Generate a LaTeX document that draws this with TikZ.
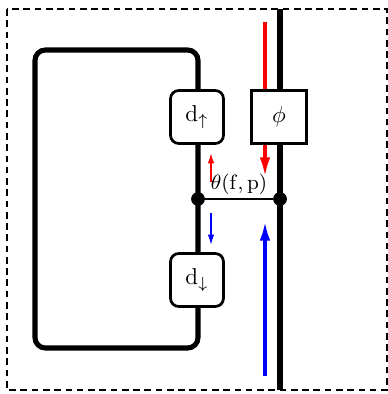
\documentclass[tikz,border=0pt]{standalone}
\usetikzlibrary{arrows.meta}

\tikzset{
  dbox/.style={draw, fill=white, rounded corners=3.5pt, line width=1.2pt, minimum width=23pt, minimum height=23pt, inner sep=0pt},
  phibox/.style={draw, fill=white, line width=1.2pt, minimum width=24pt, minimum height=23pt, inner sep=0pt},
  junct/.style={circle, fill=black, inner sep=0pt, minimum size=6pt},
  wire/.style={line width=2.2pt},
  bigflow/.style={line width=1.7pt, -{Latex[length=9pt,width=4.6pt]}},
  smallflow/.style={line width=0.6pt, -{Latex[length=4.5pt,width=2.8pt]}}
}

\begin{document}
\begin{tikzpicture}[x=0.4348pt,y=-0.4348pt]
\useasboundingbox (0,0) rectangle (388,394);
% frame
\draw[line width=1.3pt, dash pattern=on 2.9pt off 2pt] (7,9) rectangle (387,390);
% flows
\coordinate (redtop) at (265,22);
\coordinate (redtip) at (265,178);
\coordinate (bluebot) at (265,376);
\coordinate (bluetip) at (265,220);
\draw[bigflow, red] (redtop) -- (redtip);
\draw[bigflow, blue] (bluebot) -- (bluetip);
% wire and loop
\coordinate (wtop) at (280,9);
\coordinate (wbot) at (280,390);
\draw[wire] (wtop) -- (wbot);
\draw[wire, rounded corners=4.5pt] (35,50) rectangle (198,348);
% boxes
\node[dbox] (dup) at (197,117) {$\mathrm{d}_\uparrow$};
\node[dbox] (ddown) at (197,280) {$\mathrm{d}_\downarrow$};
\node[phibox] (phi) at (279,117) {$\phi$};
% junction
\node[junct] (jl) at (198,199) {};
\node[junct] (jr) at (280,199) {};
\draw[line width=0.45pt] (jl) -- node[above, inner sep=1.5pt, font=\small] (theta) {$\theta(\mathrm{f},\mathrm{p})$} (jr);
% spin arrows
\coordinate (upfrom) at (211,182);
\coordinate (upto) at (211,153);
\coordinate (downfrom) at (211,213);
\coordinate (downto) at (211,245);
\draw[smallflow, red] (upfrom) -- (upto);
\draw[smallflow, blue] (downfrom) -- (downto);
\end{tikzpicture}
\end{document}
